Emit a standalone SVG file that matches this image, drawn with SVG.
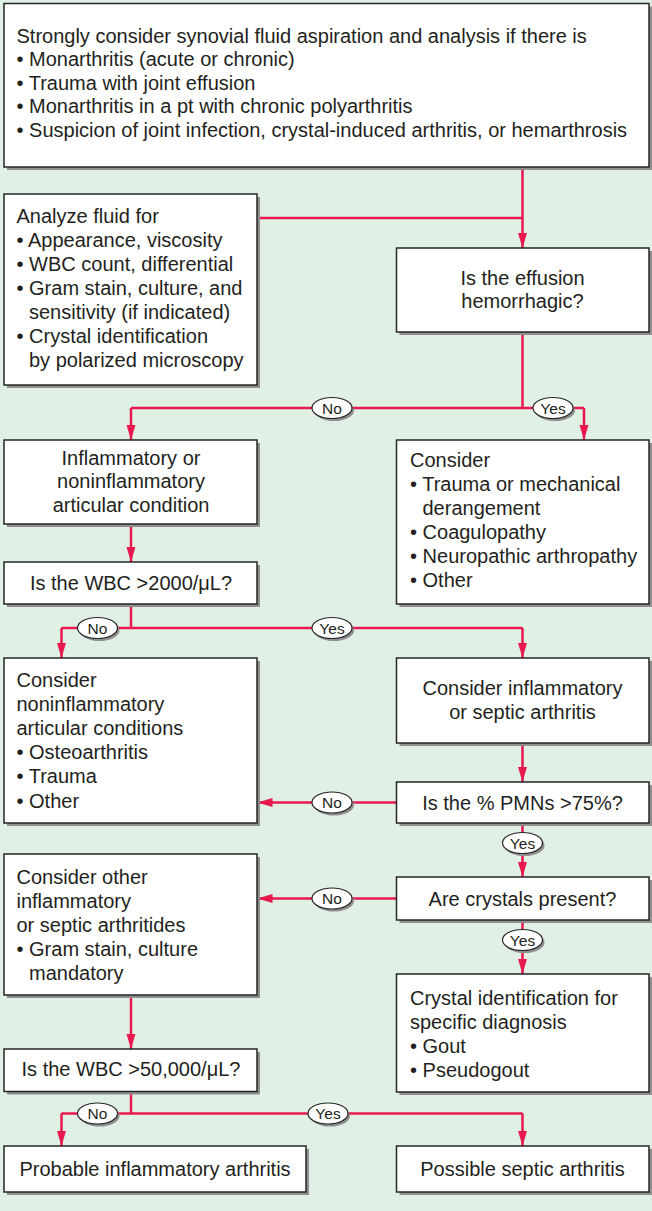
<svg xmlns="http://www.w3.org/2000/svg" width="652" height="1211" viewBox="0 0 652 1211">
<style>
.bg{fill:#e0f0e5}
.box{fill:#fff;stroke:#262626;stroke-width:1.5}
.sh{fill:#8f8f8f}
.t{font-family:"Liberation Sans",Arial,Helvetica,sans-serif;font-size:20px;fill:#231f20}
.c{text-anchor:middle}
.ln{fill:none;stroke:#e8194f;stroke-width:2.5}
.ov{fill:#fff;stroke:#262626;stroke-width:1.2}
.ovs{fill:#8f8f8f}
.lb{font-family:"Liberation Sans",Arial,Helvetica,sans-serif;font-size:15.5px;fill:#231f20;text-anchor:middle}
</style>
<defs>
<marker id="ah" markerUnits="userSpaceOnUse" markerWidth="15" markerHeight="10" refX="15" refY="4.5" orient="auto">
<path d="M0,0 L15,4.5 L0,9 z" fill="#e8194f"/>
</marker>
</defs>
<rect class="bg" x="0" y="0" width="652" height="1211"/>

<g id="connectors">
<path class="ln" d="M522.5,167 V248" marker-end="url(#ah)"/>
<path class="ln" d="M257,218 H522.5"/>
<path class="ln" d="M522.5,332 V408 M131,408 H584"/>
<path class="ln" d="M131,408 V440" marker-end="url(#ah)"/>
<path class="ln" d="M584,408 V440" marker-end="url(#ah)"/>
<path class="ln" d="M131,524 V562" marker-end="url(#ah)"/>
<path class="ln" d="M131,604 V628 M61.5,628 H522.5"/>
<path class="ln" d="M61.5,628 V658" marker-end="url(#ah)"/>
<path class="ln" d="M522.5,628 V658" marker-end="url(#ah)"/>
<path class="ln" d="M522.5,743 V782" marker-end="url(#ah)"/>
<path class="ln" d="M396,802.5 H257.5" marker-end="url(#ah)"/>
<path class="ln" d="M522.5,823 V877" marker-end="url(#ah)"/>
<path class="ln" d="M396,898.5 H257.5" marker-end="url(#ah)"/>
<path class="ln" d="M522.5,920 V974" marker-end="url(#ah)"/>
<path class="ln" d="M131,995 V1049" marker-end="url(#ah)"/>
<path class="ln" d="M131,1091.5 V1113.5 M61.5,1113.5 H522.5"/>
<path class="ln" d="M61.5,1113.5 V1146" marker-end="url(#ah)"/>
<path class="ln" d="M522.5,1113.5 V1146" marker-end="url(#ah)"/>
</g>

<g id="labels">
<g id="lbl-no1"><ellipse class="ovs" cx="334" cy="410.5" rx="20" ry="10.5"/><ellipse class="ov" cx="332" cy="408" rx="20" ry="10.5"/><text class="lb" x="332" y="413.5">No</text></g>
<g id="lbl-yes1"><ellipse class="ovs" cx="555" cy="410.5" rx="20" ry="10.5"/><ellipse class="ov" cx="553" cy="408" rx="20" ry="10.5"/><text class="lb" x="553" y="413.5">Yes</text></g>
<g id="lbl-no2"><ellipse class="ovs" cx="99.5" cy="630.5" rx="20" ry="10.5"/><ellipse class="ov" cx="97.5" cy="628" rx="20" ry="10.5"/><text class="lb" x="97.5" y="633.5">No</text></g>
<g id="lbl-yes2"><ellipse class="ovs" cx="334" cy="630.5" rx="20" ry="10.5"/><ellipse class="ov" cx="332" cy="628" rx="20" ry="10.5"/><text class="lb" x="332" y="633.5">Yes</text></g>
<g id="lbl-no3"><ellipse class="ovs" cx="334" cy="805" rx="20" ry="10.5"/><ellipse class="ov" cx="332" cy="802.5" rx="20" ry="10.5"/><text class="lb" x="332" y="808">No</text></g>
<g id="lbl-yes3"><ellipse class="ovs" cx="524.5" cy="845.5" rx="20" ry="10.5"/><ellipse class="ov" cx="522.5" cy="843" rx="20" ry="10.5"/><text class="lb" x="522.5" y="848.5">Yes</text></g>
<g id="lbl-no4"><ellipse class="ovs" cx="334" cy="901" rx="20" ry="10.5"/><ellipse class="ov" cx="332" cy="898.5" rx="20" ry="10.5"/><text class="lb" x="332" y="904">No</text></g>
<g id="lbl-yes4"><ellipse class="ovs" cx="524.5" cy="942.5" rx="20" ry="10.5"/><ellipse class="ov" cx="522.5" cy="940" rx="20" ry="10.5"/><text class="lb" x="522.5" y="945.5">Yes</text></g>
<g id="lbl-no5"><ellipse class="ovs" cx="99.5" cy="1116" rx="20" ry="10.5"/><ellipse class="ov" cx="97.5" cy="1113.5" rx="20" ry="10.5"/><text class="lb" x="97.5" y="1119">No</text></g>
<g id="lbl-yes5"><ellipse class="ovs" cx="330" cy="1116" rx="20" ry="10.5"/><ellipse class="ov" cx="328" cy="1113.5" rx="20" ry="10.5"/><text class="lb" x="328" y="1119">Yes</text></g>
</g>

<g id="n-top">
<rect class="sh" x="7" y="6.5" width="645" height="163.5"/>
<rect class="box" x="4" y="3.5" width="645" height="163.5"/>
<text class="t" x="16.5" y="42.5">Strongly consider synovial fluid aspiration and analysis if there is</text>
<text class="t" x="16.5" y="66">• Monarthritis (acute or chronic)</text>
<text class="t" x="16.5" y="89.5">• Trauma with joint effusion</text>
<text class="t" x="16.5" y="113">• Monarthritis in a pt with chronic polyarthritis</text>
<text class="t" x="16.5" y="136.5">• Suspicion of joint infection, crystal-induced arthritis, or hemarthrosis</text>
</g>

<g id="n-analyze">
<rect class="sh" x="7" y="197" width="253" height="191"/>
<rect class="box" x="4" y="194" width="253" height="191"/>
<text class="t" x="16.5" y="223">Analyze fluid for</text>
<text class="t" x="16.5" y="247">• Appearance, viscosity</text>
<text class="t" x="16.5" y="271">• WBC count, differential</text>
<text class="t" x="16.5" y="295">• Gram stain, culture, and</text>
<text class="t" x="29" y="319">sensitivity (if indicated)</text>
<text class="t" x="16.5" y="343">• Crystal identification</text>
<text class="t" x="29" y="367">by polarized microscopy</text>
</g>

<g id="n-effusion">
<rect class="sh" x="399.5" y="251" width="252.5" height="84"/>
<rect class="box" x="396.5" y="248" width="252.5" height="84"/>
<text class="t c" x="522.5" y="285">Is the effusion</text>
<text class="t c" x="522.5" y="308">hemorrhagic?</text>
</g>

<g id="n-inflam">
<rect class="sh" x="7" y="443" width="253" height="84"/>
<rect class="box" x="4" y="440" width="253" height="84"/>
<text class="t c" x="131" y="464.5">Inflammatory or</text>
<text class="t c" x="131" y="488">noninflammatory</text>
<text class="t c" x="131" y="511.5">articular condition</text>
</g>

<g id="n-hemo">
<rect class="sh" x="399.5" y="443" width="252.5" height="164"/>
<rect class="box" x="396.5" y="440" width="252.5" height="164"/>
<text class="t" x="410" y="467">Consider</text>
<text class="t" x="410" y="491">• Trauma or mechanical</text>
<text class="t" x="422.5" y="515">derangement</text>
<text class="t" x="410" y="539">• Coagulopathy</text>
<text class="t" x="410" y="563">• Neuropathic arthropathy</text>
<text class="t" x="410" y="587">• Other</text>
</g>

<g id="n-wbc2000">
<rect class="sh" x="7" y="565" width="253" height="42"/>
<rect class="box" x="4" y="562" width="253" height="42"/>
<text class="t c" x="131" y="589.5">Is the WBC &gt;2000/μL?</text>
</g>

<g id="n-noninfl">
<rect class="sh" x="7" y="661" width="253" height="165"/>
<rect class="box" x="4" y="658" width="253" height="165"/>
<text class="t" x="16.5" y="687">Consider</text>
<text class="t" x="16.5" y="711">noninflammatory</text>
<text class="t" x="16.5" y="735">articular conditions</text>
<text class="t" x="16.5" y="759">• Osteoarthritis</text>
<text class="t" x="16.5" y="783">• Trauma</text>
<text class="t" x="16.5" y="807.5">• Other</text>
</g>

<g id="n-septic">
<rect class="sh" x="399.5" y="661" width="252.5" height="85"/>
<rect class="box" x="396.5" y="658" width="252.5" height="85"/>
<text class="t c" x="522.5" y="695">Consider inflammatory</text>
<text class="t c" x="522.5" y="719">or septic arthritis</text>
</g>

<g id="n-pmn">
<rect class="sh" x="399.5" y="785" width="252.5" height="41"/>
<rect class="box" x="396.5" y="782" width="252.5" height="41"/>
<text class="t c" x="522.5" y="809.5">Is the % PMNs &gt;75%?</text>
</g>

<g id="n-other">
<rect class="sh" x="7" y="857" width="253" height="141"/>
<rect class="box" x="4" y="854" width="253" height="141"/>
<text class="t" x="16.5" y="884">Consider other</text>
<text class="t" x="16.5" y="908">inflammatory</text>
<text class="t" x="16.5" y="932">or septic arthritides</text>
<text class="t" x="16.5" y="956">• Gram stain, culture</text>
<text class="t" x="29" y="980">mandatory</text>
</g>

<g id="n-crystals">
<rect class="sh" x="399.5" y="880" width="252.5" height="43"/>
<rect class="box" x="396.5" y="877" width="252.5" height="43"/>
<text class="t c" x="522.5" y="905.5">Are crystals present?</text>
</g>

<g id="n-crystalid">
<rect class="sh" x="399.5" y="977" width="252.5" height="118"/>
<rect class="box" x="396.5" y="974" width="252.5" height="118"/>
<text class="t" x="410" y="1005">Crystal identification for</text>
<text class="t" x="410" y="1029">specific diagnosis</text>
<text class="t" x="410" y="1053">• Gout</text>
<text class="t" x="410" y="1077">• Pseudogout</text>
</g>

<g id="n-wbc50000">
<rect class="sh" x="7" y="1052" width="253" height="42.5"/>
<rect class="box" x="4" y="1049" width="253" height="42.5"/>
<text class="t c" x="131" y="1076">Is the WBC &gt;50,000/μL?</text>
</g>

<g id="n-probable">
<rect class="sh" x="7" y="1149" width="302" height="46"/>
<rect class="box" x="4" y="1146" width="302" height="46"/>
<text class="t c" x="155" y="1175.5">Probable inflammatory arthritis</text>
</g>

<g id="n-possible">
<rect class="sh" x="399.5" y="1149" width="252.5" height="46"/>
<rect class="box" x="396.5" y="1146" width="252.5" height="46"/>
<text class="t c" x="522.5" y="1175.5">Possible septic arthritis</text>
</g>
</svg>
